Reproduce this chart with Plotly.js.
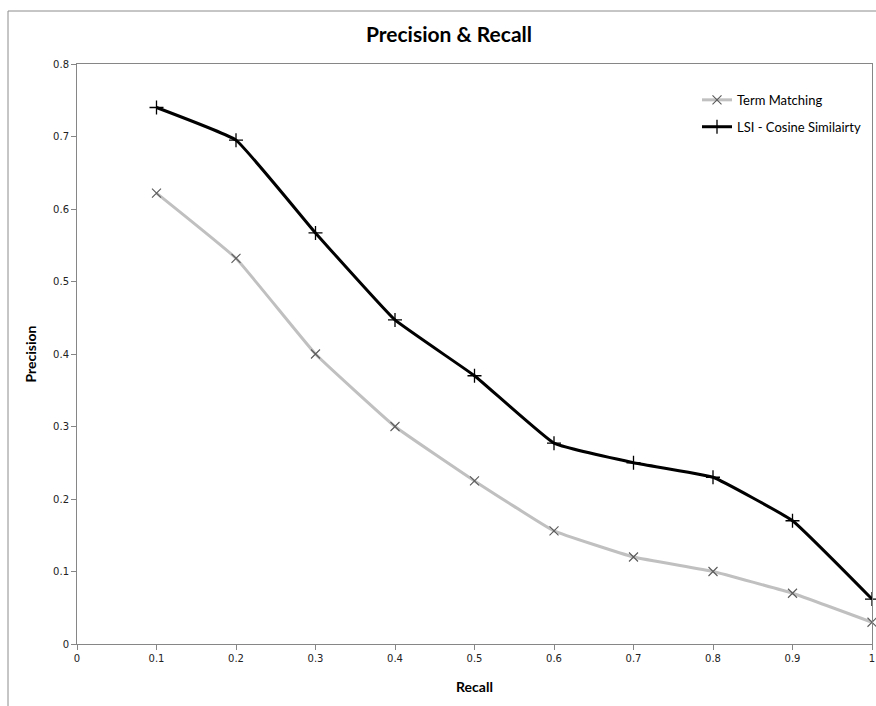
<!DOCTYPE html>
<html>
<head>
<meta charset="utf-8">
<script src="https://cdn.plot.ly/plotly-3.0.1.min.js"></script>
<style>html,body{margin:0;padding:0;background:#fff;overflow:hidden;}#chart{width:876px;height:706px;}</style>
</head>
<body>
<div id="chart"></div>
<script>
const recall = [0.1, 0.2, 0.3, 0.4, 0.5, 0.6, 0.7, 0.8, 0.9, 1.0];
const termMatching = [0.622, 0.532, 0.400, 0.300, 0.225, 0.156, 0.120, 0.100, 0.070, 0.030];
const lsiCosine = [0.740, 0.695, 0.567, 0.447, 0.370, 0.277, 0.250, 0.230, 0.170, 0.062];
const seriesNames = ["Term Matching", "LSI - Cosine Similairty"];

const traces = [
  {
    x: recall, y: termMatching, name: seriesNames[0], type: 'scatter', mode: 'lines+markers',
    line: {color: '#c0c0c0', width: 3, shape: 'spline', smoothing: 0.3},
    marker: {symbol: 'x-thin-open', size: 9, color: '#5a5a5a', line: {width: 1.1, color: '#5a5a5a'}},
    cliponaxis: false, legendgroup: 'a'
  },
  {
    x: recall, y: lsiCosine, name: seriesNames[1], type: 'scatter', mode: 'lines+markers',
    line: {color: '#000000', width: 3, shape: 'spline', smoothing: 0.3},
    marker: {symbol: 'cross-thin-open', size: 10, color: '#000000', line: {width: 1.3, color: '#000000'}},
    cliponaxis: false, legendgroup: 'b'
  }
];

const axisColor = '#868686';
const layout = {
  width: 876, height: 706,
  margin: {l: 77, r: 4, t: 64, b: 62},
  paper_bgcolor: '#ffffff', plot_bgcolor: '#ffffff',
  title: {text: '<b>Precision & Recall</b>', font: {family: 'Lato, Carlito, sans-serif', size: 21, color: '#000'},
          x: 449/876, xref: 'container', xanchor: 'center', y: 1 - 35/706, yanchor: 'middle'},
  xaxis: {
    range: [0, 1], dtick: 0.1, tick0: 0, showgrid: false, zeroline: false,
    showline: true, linecolor: axisColor, linewidth: 1, mirror: true,
    ticks: 'outside', ticklen: 5, tickcolor: axisColor,
    tickfont: {family: 'DejaVu Sans, Verdana, sans-serif', size: 10, color: '#222'},
    title: {text: '<b>Recall</b>', font: {family: 'Lato, sans-serif', size: 14, color: '#000'}, standoff: 19},
    automargin: false
  },
  yaxis: {
    range: [0, 0.8], dtick: 0.1, tick0: 0, showgrid: false, zeroline: false,
    showline: true, linecolor: axisColor, linewidth: 1, mirror: true,
    ticks: 'outside', ticklen: 5, tickcolor: axisColor,
    tickfont: {family: 'DejaVu Sans, Verdana, sans-serif', size: 10, color: '#222'},
    title: {text: '<b>Precision</b>', font: {family: 'Lato, sans-serif', size: 14, color: '#000'}, standoff: 13},
    automargin: false
  },
  legend: {
    x: (697-77)/795, y: 0.964, xanchor: 'left', yanchor: 'top',
    font: {family: 'Lato, sans-serif', size: 13, color: '#000'},
    bgcolor: 'rgba(0,0,0,0)', borderwidth: 0, tracegroupgap: 7, traceorder: 'grouped'
  },
  showlegend: true,
  shapes: [
    {type: 'rect', xref: 'paper', yref: 'paper', x0: (8-77)/795, x1: 1.2, y0: -0.3, y1: (644-11)/580,
     line: {color: '#8c8c8c', width: 1}, fillcolor: 'rgba(0,0,0,0)', layer: 'below'}
  ]
};

Plotly.newPlot('chart', traces, layout, {displayModeBar: false, staticPlot: true});
</script>
</body>
</html>
